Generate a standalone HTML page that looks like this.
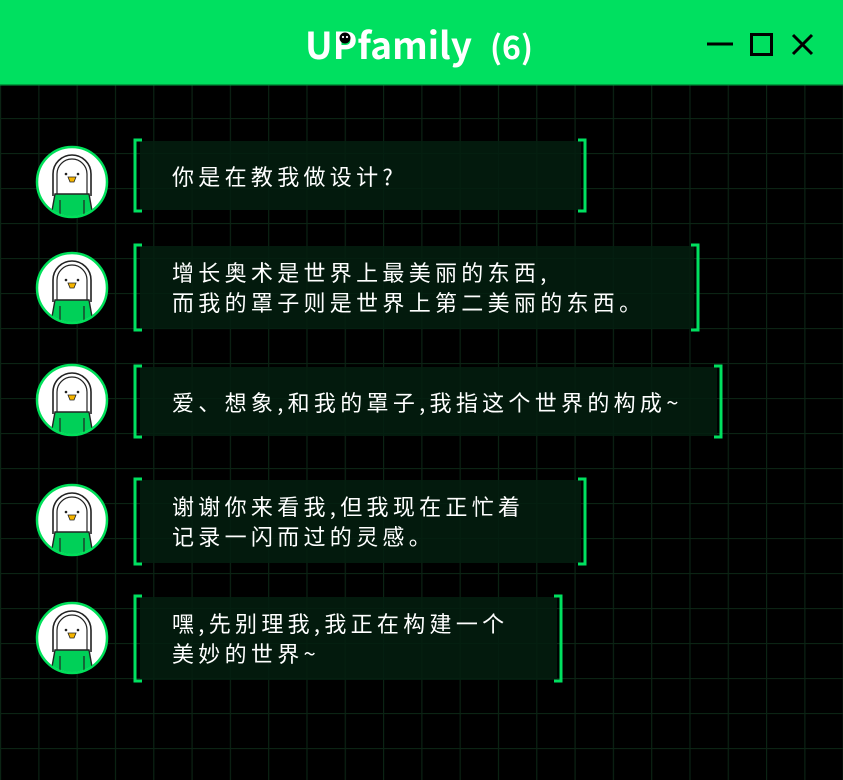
<!DOCTYPE html>
<html><head><meta charset="utf-8"><style>
html,body{margin:0;padding:0;background:#000;}
body{width:843px;height:780px;overflow:hidden;position:relative;font-family:"Liberation Sans","Noto Sans CJK SC",sans-serif;}
.t{position:absolute;color:#fff;font-family:"Noto Sans CJK SC","WenQuanYi Zen Hei",sans-serif;font-size:22px;letter-spacing:4.3px;line-height:30px;white-space:nowrap;}
</style></head><body>
<svg width="843" height="780" style="position:absolute;left:0;top:0">
<defs>
<pattern id="g" x="0" y="13" width="38.3" height="35" patternUnits="userSpaceOnUse">
<path d="M0.5 0V35M0 0.5H38.3" stroke="#0b2414" stroke-width="1.3" fill="none"/>
</pattern>
<clipPath id="cc"><circle cx="0" cy="0" r="34"/></clipPath>
<g id="av">
<circle cx="0" cy="0" r="35" fill="#fff" stroke="#00e05a" stroke-width="2.5"/>
<g clip-path="url(#cc)">
<path d="M-19 14V-8A19 19 0 0 1 19 -8V14" fill="none" stroke="#222" stroke-width="1.6"/>
<path d="M-15 12V-8A15 15 0 0 1 15 -8V12" fill="none" stroke="#222" stroke-width="1.2"/>
<path d="M-17 12H17L22 40H-22Z" fill="#00d058" stroke="#222" stroke-width="1.4"/>
<path d="M-12 18V36M12 18V36" stroke="#222" stroke-width="1.2"/>
<circle cx="-6" cy="-8" r="1.3" fill="#222"/><circle cx="6" cy="-8" r="1.3" fill="#222"/>
<path d="M-4 -5H4L2 0H-2Z" fill="#f5b400" stroke="#222" stroke-width="0.8"/>
</g>
</g>
</defs>
<rect x="0" y="85" width="843" height="695" fill="url(#g)"/>
<rect x="0" y="0" width="843" height="85" fill="#00e060"/>
<rect x="0" y="84" width="843" height="1.5" fill="#00a040"/>
<path d="M707 44H733" stroke="#000" stroke-width="3"/>
<rect x="751.5" y="34.5" width="20" height="20" fill="none" stroke="#000" stroke-width="3"/>
<path d="M793 35L812 54M812 35L793 54" stroke="#000" stroke-width="3"/>
<g fill="#031f0f" fill-opacity="0.85">
<rect x="140" y="141" width="441" height="69"/>
<rect x="140" y="246" width="554" height="83"/>
<rect x="140" y="367" width="577" height="69"/>
<rect x="140" y="480" width="441" height="83"/>
<rect x="140" y="597" width="417" height="83"/>
</g>
<g fill="none" stroke="#00e060" stroke-width="3">
<path d="M142 140H135V211H142M578 140H585V211H578"/>
<path d="M142 245H135V330H142M691 245H698V330H691"/>
<path d="M142 366H135V437H142M714 366H721V437H714"/>
<path d="M142 479H135V564H142M578 479H585V564H578"/>
<path d="M142 596H135V681H142M554 596H561V681H554"/>
</g>
<use href="#av" x="72" y="182"/>
<use href="#av" x="72" y="288"/>
<use href="#av" x="72" y="400"/>
<use href="#av" x="72" y="520"/>
<use href="#av" x="72" y="638"/>
</svg>
<div style="position:absolute;left:305px;top:18px;color:#fff;font-weight:bold;font-size:37px;line-height:50px;white-space:nowrap;font-family:'Noto Sans CJK SC','Liberation Sans',sans-serif;">UPfamily<span style="margin-left:18px;font-size:32px">(6)</span></div>
<svg width="843" height="85" style="position:absolute;left:0;top:0">
<circle cx="345" cy="38" r="5.5" fill="#000"/>
<circle cx="343" cy="37" r="1.1" fill="#fff"/><circle cx="347" cy="37" r="1.1" fill="#fff"/>
</svg>
<div class="t" style="left:172px;top:161px">你是在教我做设计?</div>
<div class="t" style="left:172px;top:257px">增长奥术是世界上最美丽的东西,<br>而我的罩子则是世界上第二美丽的东西。</div>
<div class="t" style="left:172px;top:387px">爱、想象,和我的罩子,我指这个世界的构成~</div>
<div class="t" style="left:172px;top:491px">谢谢你来看我,但我现在正忙着<br>记录一闪而过的灵感。</div>
<div class="t" style="left:172px;top:608px">嘿,先别理我,我正在构建一个<br>美妙的世界~</div>
</body></html>
